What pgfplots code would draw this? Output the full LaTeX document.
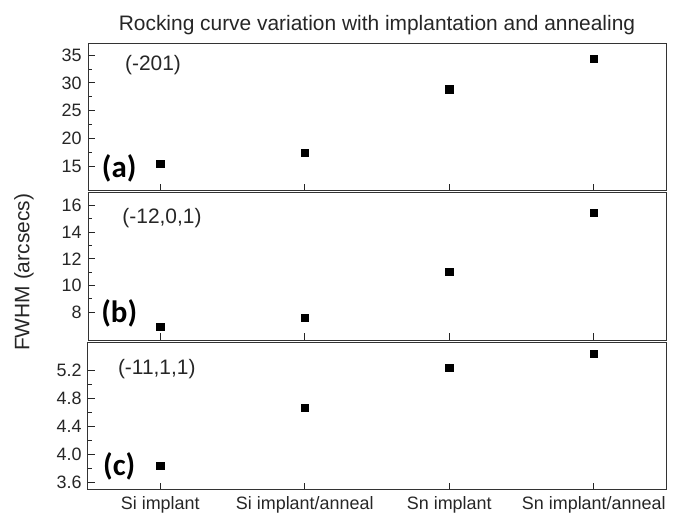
\documentclass[border=0pt]{standalone}
\usepackage{pgfplots}
\pgfplotsset{compat=1.18}
\usepgfplotslibrary{groupplots}
\usepackage{fontspec}
\setmainfont{Liberation Sans}
\newfontfamily\calib{Carlito}

\begin{document}
\begin{tikzpicture}
\begin{groupplot}[
    group style={group size=1 by 3, vertical sep=2bp, xticklabels at=edge bottom},
    scale only axis,
    width=578bp, height=147.6bp,
    xmin=0.5, xmax=4.5,
    xtick={1,2,3,4},
    xticklabels={Si implant, Si implant/anneal, Sn implant, Sn implant/anneal},
    xtick pos=left, ytick pos=left,
    tick align=inside,
    major tick length=7bp, minor tick length=4bp,
    minor y tick num=1,
    tick style={black!85, line width=0.8bp},
    axis line style={line width=1bp, black!80},
    ticklabel style={font=\fontsize{18}{18}\selectfont, text=black!85},
    /pgf/number format/assume math mode=true,
    xticklabel style={yshift=-3bp},
    yticklabel style={xshift=-3bp},
    clip=false,
]
% (a) (-201)
\nextgroupplot[ymin=10.65, ymax=37.15, ytick={15,20,25,30,35}]
\addplot[only marks, mark=square*, mark size=3.6bp, black] coordinates {
    (1,15.43) (2,17.5) (3,28.86) (4,34.28)
};
\node[font=\fontsize{21}{21}\selectfont, text=black!85] at (rel axis cs:0.1125,0.851) {(-201)};
\node[font=\calib\bfseries\fontsize{31}{31}\selectfont] at (rel axis cs:0.054,0.15) {(a)};

% (b) (-12,0,1)
\nextgroupplot[ymin=5.9, ymax=16.97, ytick={8,10,12,14,16}]
\addplot[only marks, mark=square*, mark size=3.6bp, black] coordinates {
    (1,6.89) (2,7.6) (3,11.02) (4,15.48)
};
\coordinate (yl) at (rel axis cs:0,0.5);
\node[font=\fontsize{21}{21}\selectfont, text=black!85] at (rel axis cs:0.128,0.83) {(-12,0,1)};
\node[font=\calib\bfseries\fontsize{31}{31}\selectfont] at (rel axis cs:0.054,0.185) {(b)};

% (c) (-11,1,1)
\nextgroupplot[ymin=3.49, ymax=5.6, ytick={3.6,4.0,4.4,4.8,5.2},
    yticklabel style={/pgf/number format/.cd, fixed, fixed zerofill, precision=1}]
\addplot[only marks, mark=square*, mark size=3.6bp, black] coordinates {
    (1,3.83) (2,4.66) (3,5.23) (4,5.43)
};
\node[font=\fontsize{21}{21}\selectfont, text=black!85] at (rel axis cs:0.119,0.818) {(-11,1,1)};
\node[font=\calib\bfseries\fontsize{31}{31}\selectfont] at (rel axis cs:0.054,0.16) {(c)};
\end{groupplot}
\node[anchor=base, font=\fontsize{21}{21}\selectfont, text=black!85] at ([yshift=13bp]group c1r1.north) {Rocking curve variation with implantation and annealing};
\node[rotate=90, font=\fontsize{21}{21}\selectfont, text=black!85] at ([xshift=-64bp,yshift=-6bp]yl) {FWHM (arcsecs)};
\pgfresetboundingbox
\path[use as bounding box] ([xshift=-88bp,yshift=43bp]group c1r1.north west) rectangle ([xshift=8bp,yshift=-24bp]group c1r3.south east);
\end{tikzpicture}
\end{document}
